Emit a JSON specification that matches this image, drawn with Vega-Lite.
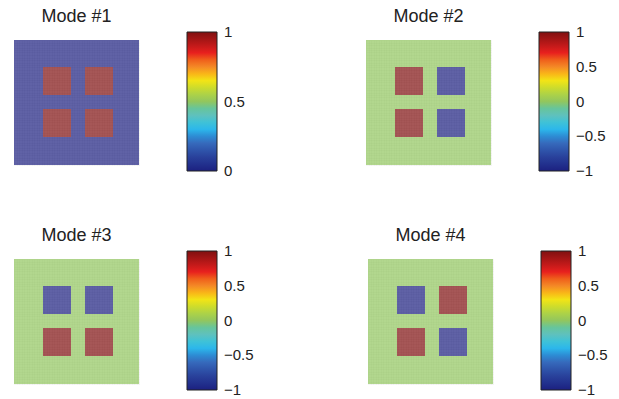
{
  "$schema": "https://vega.github.io/schema/vega-lite/v6.json",
  "padding": {"left": 14, "top": 8, "right": 5, "bottom": 5},
  "background": "white",
  "config": {
    "view": {"stroke": null},
    "font": "Liberation Sans",
    "title": {"fontSize": 18, "fontWeight": "normal", "color": "#222222", "offset": 6, "font": "Liberation Sans"},
    "axis": {
      "domain": false, "ticks": false, "labels": false, "title": null,
      "grid": true, "gridColor": "#000000", "gridOpacity": 0.07, "gridWidth": 0.6,
      "tickCount": 40, "zindex": 1
    },
    "legend": {
      "orient": "none", "legendX": 173, "legendY": -8,
      "type": "gradient", "direction": "vertical", "title": null,
      "gradientLength": 139, "gradientThickness": 30,
      "gradientStrokeColor": "#222222", "gradientStrokeWidth": 1,
      "labelFont": "Liberation Sans", "labelFontSize": 15, "labelColor": "#222222",
      "labelOffset": 7, "labelBaseline": "middle", "labelOverlap": false
    }
  },
  "datasets": {
    "cells": [
      {"mode": 1, "x": 0, "x2": 1, "y": 0, "y2": 0.224, "v": 0},
      {"mode": 1, "x": 0, "x2": 1, "y": 0.448, "y2": 0.56, "v": 0},
      {"mode": 1, "x": 0, "x2": 1, "y": 0.784, "y2": 1, "v": 0},
      {"mode": 1, "x": 0, "x2": 0.232, "y": 0.224, "y2": 0.448, "v": 0},
      {"mode": 1, "x": 0.456, "x2": 0.568, "y": 0.224, "y2": 0.448, "v": 0},
      {"mode": 1, "x": 0.792, "x2": 1, "y": 0.224, "y2": 0.448, "v": 0},
      {"mode": 1, "x": 0, "x2": 0.232, "y": 0.56, "y2": 0.784, "v": 0},
      {"mode": 1, "x": 0.456, "x2": 0.568, "y": 0.56, "y2": 0.784, "v": 0},
      {"mode": 1, "x": 0.792, "x2": 1, "y": 0.56, "y2": 0.784, "v": 0},
      {"mode": 1, "x": 0.232, "x2": 0.456, "y": 0.56, "y2": 0.784, "v": 1},
      {"mode": 1, "x": 0.568, "x2": 0.792, "y": 0.56, "y2": 0.784, "v": 1},
      {"mode": 1, "x": 0.232, "x2": 0.456, "y": 0.224, "y2": 0.448, "v": 1},
      {"mode": 1, "x": 0.568, "x2": 0.792, "y": 0.224, "y2": 0.448, "v": 1},

      {"mode": 2, "x": 0, "x2": 1, "y": 0, "y2": 0.224, "v": 0},
      {"mode": 2, "x": 0, "x2": 1, "y": 0.448, "y2": 0.56, "v": 0},
      {"mode": 2, "x": 0, "x2": 1, "y": 0.784, "y2": 1, "v": 0},
      {"mode": 2, "x": 0, "x2": 0.232, "y": 0.224, "y2": 0.448, "v": 0},
      {"mode": 2, "x": 0.456, "x2": 0.568, "y": 0.224, "y2": 0.448, "v": 0},
      {"mode": 2, "x": 0.792, "x2": 1, "y": 0.224, "y2": 0.448, "v": 0},
      {"mode": 2, "x": 0, "x2": 0.232, "y": 0.56, "y2": 0.784, "v": 0},
      {"mode": 2, "x": 0.456, "x2": 0.568, "y": 0.56, "y2": 0.784, "v": 0},
      {"mode": 2, "x": 0.792, "x2": 1, "y": 0.56, "y2": 0.784, "v": 0},
      {"mode": 2, "x": 0.232, "x2": 0.456, "y": 0.56, "y2": 0.784, "v": 1},
      {"mode": 2, "x": 0.568, "x2": 0.792, "y": 0.56, "y2": 0.784, "v": -1},
      {"mode": 2, "x": 0.232, "x2": 0.456, "y": 0.224, "y2": 0.448, "v": 1},
      {"mode": 2, "x": 0.568, "x2": 0.792, "y": 0.224, "y2": 0.448, "v": -1},

      {"mode": 3, "x": 0, "x2": 1, "y": 0, "y2": 0.224, "v": 0},
      {"mode": 3, "x": 0, "x2": 1, "y": 0.448, "y2": 0.56, "v": 0},
      {"mode": 3, "x": 0, "x2": 1, "y": 0.784, "y2": 1, "v": 0},
      {"mode": 3, "x": 0, "x2": 0.232, "y": 0.224, "y2": 0.448, "v": 0},
      {"mode": 3, "x": 0.456, "x2": 0.568, "y": 0.224, "y2": 0.448, "v": 0},
      {"mode": 3, "x": 0.792, "x2": 1, "y": 0.224, "y2": 0.448, "v": 0},
      {"mode": 3, "x": 0, "x2": 0.232, "y": 0.56, "y2": 0.784, "v": 0},
      {"mode": 3, "x": 0.456, "x2": 0.568, "y": 0.56, "y2": 0.784, "v": 0},
      {"mode": 3, "x": 0.792, "x2": 1, "y": 0.56, "y2": 0.784, "v": 0},
      {"mode": 3, "x": 0.232, "x2": 0.456, "y": 0.56, "y2": 0.784, "v": -1},
      {"mode": 3, "x": 0.568, "x2": 0.792, "y": 0.56, "y2": 0.784, "v": -1},
      {"mode": 3, "x": 0.232, "x2": 0.456, "y": 0.224, "y2": 0.448, "v": 1},
      {"mode": 3, "x": 0.568, "x2": 0.792, "y": 0.224, "y2": 0.448, "v": 1},

      {"mode": 4, "x": 0, "x2": 1, "y": 0, "y2": 0.224, "v": 0},
      {"mode": 4, "x": 0, "x2": 1, "y": 0.448, "y2": 0.56, "v": 0},
      {"mode": 4, "x": 0, "x2": 1, "y": 0.784, "y2": 1, "v": 0},
      {"mode": 4, "x": 0, "x2": 0.232, "y": 0.224, "y2": 0.448, "v": 0},
      {"mode": 4, "x": 0.456, "x2": 0.568, "y": 0.224, "y2": 0.448, "v": 0},
      {"mode": 4, "x": 0.792, "x2": 1, "y": 0.224, "y2": 0.448, "v": 0},
      {"mode": 4, "x": 0, "x2": 0.232, "y": 0.56, "y2": 0.784, "v": 0},
      {"mode": 4, "x": 0.456, "x2": 0.568, "y": 0.56, "y2": 0.784, "v": 0},
      {"mode": 4, "x": 0.792, "x2": 1, "y": 0.56, "y2": 0.784, "v": 0},
      {"mode": 4, "x": 0.232, "x2": 0.456, "y": 0.56, "y2": 0.784, "v": -1},
      {"mode": 4, "x": 0.568, "x2": 0.792, "y": 0.56, "y2": 0.784, "v": 1},
      {"mode": 4, "x": 0.232, "x2": 0.456, "y": 0.224, "y2": 0.448, "v": 1},
      {"mode": 4, "x": 0.568, "x2": 0.792, "y": 0.224, "y2": 0.448, "v": -1}
    ]
  },
  "data": {"name": "cells"},
  "spacing": 48,
  "resolve": {"scale": {"color": "independent", "x": "independent", "y": "independent"}, "legend": {"color": "independent"}},
  "vconcat": [
    {
      "bounds": "flush",
      "spacing": 227,
      "resolve": {"scale": {"color": "independent", "x": "independent", "y": "independent"}, "legend": {"color": "independent"}},
      "hconcat": [
        {
          "width": 125, "height": 125,
          "title": "Mode #1",
          "transform": [{"filter": "datum.mode == 1"}],
          "mark": {"type": "rect", "fillOpacity": 0.7},
          "encoding": {
            "x": {"field": "x", "type": "quantitative", "scale": {"domain": [0, 1], "nice": false, "zero": false}},
            "x2": {"field": "x2"},
            "y": {"field": "y", "type": "quantitative", "scale": {"domain": [0, 1], "nice": false, "zero": false}},
            "y2": {"field": "y2"},
            "color": {
              "field": "v", "type": "quantitative",
              "scale": {
                "domain": [0, 0.12, 0.22, 0.31, 0.42, 0.5, 0.59, 0.65, 0.74, 0.85, 1],
                "range": ["#1c2080", "#2c48a0", "#3a72c2", "#32c0ee", "#6cc0b4", "#92c65e", "#c6da30", "#f2e416", "#f5902a", "#e8201e", "#801010"]
              },
              "legend": {"values": [0, 0.5, 1], "format": ".2~g", "labelOffset": 7, "labelBaseline": "middle", "encode": {"gradient": {"update": {"opacity": {"value": 1}}}, "labels": {"update": {"baseline": {"value": "middle"}}}}}
            }
          }
        },
        {
          "width": 125, "height": 125,
          "title": "Mode #2",
          "transform": [{"filter": "datum.mode == 2"}],
          "mark": {"type": "rect", "fillOpacity": 0.7},
          "encoding": {
            "x": {"field": "x", "type": "quantitative", "scale": {"domain": [0, 1], "nice": false, "zero": false}},
            "x2": {"field": "x2"},
            "y": {"field": "y", "type": "quantitative", "scale": {"domain": [0, 1], "nice": false, "zero": false}},
            "y2": {"field": "y2"},
            "color": {
              "field": "v", "type": "quantitative",
              "scale": {
                "domain": [-1, -0.76, -0.56, -0.38, -0.16, 0, 0.18, 0.3, 0.48, 0.7, 1],
                "range": ["#1c2080", "#2c48a0", "#3a72c2", "#32c0ee", "#6cc0b4", "#92c65e", "#c6da30", "#f2e416", "#f5902a", "#e8201e", "#801010"]
              },
              "legend": {"values": [-1, -0.5, 0, 0.5, 1], "format": ".2~g", "labelOffset": 7, "labelBaseline": "middle", "encode": {"gradient": {"update": {"opacity": {"value": 1}}}, "labels": {"update": {"baseline": {"value": "middle"}}}}}
            }
          }
        }
      ]
    },
    {
      "bounds": "flush",
      "spacing": 229,
      "resolve": {"scale": {"color": "independent", "x": "independent", "y": "independent"}, "legend": {"color": "independent"}},
      "hconcat": [
        {
          "width": 125, "height": 125,
          "title": "Mode #3",
          "transform": [{"filter": "datum.mode == 3"}],
          "mark": {"type": "rect", "fillOpacity": 0.7},
          "encoding": {
            "x": {"field": "x", "type": "quantitative", "scale": {"domain": [0, 1], "nice": false, "zero": false}},
            "x2": {"field": "x2"},
            "y": {"field": "y", "type": "quantitative", "scale": {"domain": [0, 1], "nice": false, "zero": false}},
            "y2": {"field": "y2"},
            "color": {
              "field": "v", "type": "quantitative",
              "scale": {
                "domain": [-1, -0.76, -0.56, -0.38, -0.16, 0, 0.18, 0.3, 0.48, 0.7, 1],
                "range": ["#1c2080", "#2c48a0", "#3a72c2", "#32c0ee", "#6cc0b4", "#92c65e", "#c6da30", "#f2e416", "#f5902a", "#e8201e", "#801010"]
              },
              "legend": {"values": [-1, -0.5, 0, 0.5, 1], "format": ".2~g", "labelOffset": 7, "labelBaseline": "middle", "encode": {"gradient": {"update": {"opacity": {"value": 1}}}, "labels": {"update": {"baseline": {"value": "middle"}}}}}
            }
          }
        },
        {
          "width": 125, "height": 125,
          "title": "Mode #4",
          "transform": [{"filter": "datum.mode == 4"}],
          "mark": {"type": "rect", "fillOpacity": 0.7},
          "encoding": {
            "x": {"field": "x", "type": "quantitative", "scale": {"domain": [0, 1], "nice": false, "zero": false}},
            "x2": {"field": "x2"},
            "y": {"field": "y", "type": "quantitative", "scale": {"domain": [0, 1], "nice": false, "zero": false}},
            "y2": {"field": "y2"},
            "color": {
              "field": "v", "type": "quantitative",
              "scale": {
                "domain": [-1, -0.76, -0.56, -0.38, -0.16, 0, 0.18, 0.3, 0.48, 0.7, 1],
                "range": ["#1c2080", "#2c48a0", "#3a72c2", "#32c0ee", "#6cc0b4", "#92c65e", "#c6da30", "#f2e416", "#f5902a", "#e8201e", "#801010"]
              },
              "legend": {"values": [-1, -0.5, 0, 0.5, 1], "format": ".2~g", "labelOffset": 7, "labelBaseline": "middle", "encode": {"gradient": {"update": {"opacity": {"value": 1}}}, "labels": {"update": {"baseline": {"value": "middle"}}}}}
            }
          }
        }
      ]
    }
  ]
}
